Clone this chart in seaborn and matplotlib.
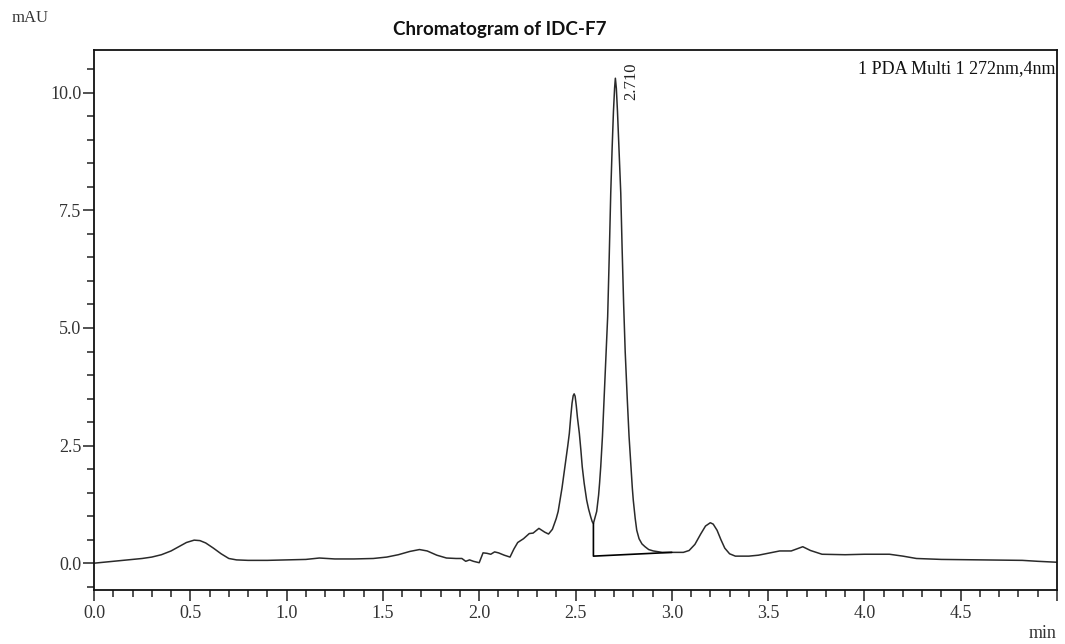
import matplotlib
matplotlib.use("Agg")
import matplotlib.pyplot as plt
from matplotlib.ticker import MultipleLocator, FormatStrFormatter
import seaborn as sns
import pandas as pd

# Retention time (min) and detector response (mAU), PDA channel 272 nm
time_min = [
    0.00, 0.05, 0.10, 0.15, 0.20, 0.25, 0.30, 0.35, 0.40, 0.44, 0.48, 0.52,
    0.55, 0.58, 0.62, 0.66, 0.70, 0.74, 0.80, 0.90, 1.00, 1.10, 1.17, 1.25,
    1.35, 1.45, 1.52, 1.58, 1.64, 1.69, 1.73, 1.78, 1.83, 1.88, 1.91, 1.93,
    1.95, 1.97, 2.00, 2.02, 2.04, 2.06, 2.08, 2.10, 2.13, 2.16, 2.18, 2.20,
    2.23, 2.26, 2.28, 2.31, 2.34, 2.36, 2.38, 2.40, 2.41, 2.42, 2.43, 2.44,
    2.45, 2.46, 2.468, 2.475, 2.482, 2.488, 2.493, 2.498, 2.504, 2.51, 2.52,
    2.528, 2.535, 2.545, 2.558, 2.568, 2.579, 2.587, 2.593, 2.60, 2.61,
    2.62, 2.625, 2.631, 2.64, 2.648, 2.657, 2.667, 2.675, 2.683, 2.69,
    2.697, 2.703, 2.707, 2.712, 2.718, 2.726, 2.735, 2.742, 2.75, 2.758,
    2.769, 2.778, 2.788, 2.795, 2.80, 2.81, 2.818, 2.83, 2.845, 2.861, 2.88,
    2.904, 2.95, 3.00, 3.06, 3.09, 3.12, 3.15, 3.175, 3.20, 3.215, 3.235,
    3.255, 3.275, 3.30, 3.33, 3.40, 3.45, 3.50, 3.56, 3.62, 3.68, 3.72, 3.78,
    3.90, 4.00, 4.13, 4.20, 4.27, 4.40, 4.60, 4.82, 4.90, 5.00,
]
mau = [
    0.00, 0.02, 0.04, 0.06, 0.08, 0.10, 0.13, 0.18, 0.26, 0.35, 0.44, 0.49,
    0.48, 0.43, 0.32, 0.20, 0.10, 0.07, 0.06, 0.06, 0.07, 0.08, 0.11, 0.09,
    0.09, 0.10, 0.13, 0.18, 0.25, 0.29, 0.26, 0.17, 0.11, 0.10, 0.10, 0.04,
    0.07, 0.04, 0.01, 0.22, 0.21, 0.19, 0.24, 0.22, 0.17, 0.13, 0.30, 0.44,
    0.52, 0.63, 0.64, 0.74, 0.66, 0.62, 0.72, 0.95, 1.10, 1.35, 1.60, 1.90,
    2.20, 2.50, 2.76, 3.10, 3.40, 3.56, 3.60, 3.55, 3.35, 3.10, 2.76,
    2.40, 2.05, 1.70, 1.34, 1.15, 0.985, 0.88, 0.845, 0.95, 1.10,
    1.45, 1.70, 2.05, 2.70, 3.47, 4.30, 5.24, 6.50, 7.87, 8.80,
    9.60, 10.10, 10.31, 10.10, 9.60, 8.80, 7.87, 6.70, 5.50, 4.50,
    3.47, 2.70, 2.05, 1.60, 1.34, 0.95, 0.70, 0.52, 0.41, 0.35, 0.29,
    0.26, 0.23, 0.23, 0.23, 0.27, 0.40, 0.62, 0.79, 0.86, 0.83, 0.70,
    0.50, 0.32, 0.20, 0.15, 0.15, 0.17, 0.21, 0.26, 0.26, 0.35, 0.27, 0.19,
    0.18, 0.19, 0.19, 0.15, 0.10, 0.08, 0.07, 0.06, 0.04, 0.02,
]

# Integration of the 2.710 peak: perpendicular drop, then sloped baseline
drop_time = [2.593, 2.593, 3.00]
drop_mau = [0.845, 0.15, 0.23]

peak_rt = 2.710
peak_label = "2.710"
channel_label = "1 PDA Multi 1 272nm,4nm"
title = "Chromatogram of IDC-F7"

df = pd.DataFrame({"time": time_min, "mAU": mau})

sns.set_theme(style="ticks")
plt.rcParams["font.family"] = ["Liberation Serif", "DejaVu Serif"]

fig = plt.figure(figsize=(10.65, 6.44), dpi=100)
ax = fig.add_axes([94 / 1065, 54 / 644, (1057 - 94) / 1065, (590 - 50) / 644])

sns.lineplot(data=df, x="time", y="mAU", ax=ax, estimator=None, sort=False,
             color="#2a2a2a", linewidth=1.1)
ax.plot(drop_time, drop_mau, color="black", linewidth=1.2)

ax.set_xlim(0.0, 5.0)
ax.set_ylim(-0.57, 10.91)
ax.set_xlabel("")
ax.set_ylabel("")

ax.xaxis.set_major_locator(MultipleLocator(0.5))
ax.xaxis.set_minor_locator(MultipleLocator(0.1))
ax.yaxis.set_major_locator(MultipleLocator(2.5))
ax.yaxis.set_minor_locator(MultipleLocator(0.5))
ax.xaxis.set_major_formatter(FormatStrFormatter("%.1f"))
ax.yaxis.set_major_formatter(FormatStrFormatter("%.1f"))

fig.canvas.draw()
xt = ax.get_xticks()
ax.set_xticks(xt)
ax.set_xticklabels(["" if abs(v - 5.0) < 1e-9 else f"{v:.1f}" for v in xt])
ax.set_xlim(0.0, 5.0)

ax.tick_params(axis="both", which="major", direction="out", length=8, width=1.1,
               color="#222222", labelsize=13, labelcolor="#333333")
ax.tick_params(axis="both", which="minor", direction="out", length=5, width=1.1,
               color="#222222")
ax.tick_params(axis="y", which="major", pad=1)
ax.tick_params(axis="x", which="major", pad=3)

for side in ["left", "right", "top", "bottom"]:
    ax.spines[side].set_visible(True)
    ax.spines[side].set_color("#111111")
    ax.spines[side].set_linewidth(1.3)

ax.text(0.998, 0.965, channel_label, transform=ax.transAxes, ha="right",
        va="center", fontsize=13, color="#111111")
ax.text(peak_rt + 0.037, 9.85, peak_label, rotation=90, ha="left", va="bottom",
        fontsize=12, color="#222222")

fig.text(500 / 1065, 1 - 30 / 644, title, ha="center", va="center",
         fontsize=13.5, fontweight="bold", family=["Lato", "DejaVu Sans"],
         color="#111111")
fig.text(12 / 1065, 1 - 18 / 644, "mAU", ha="left", va="center", fontsize=12,
         color="#333333")
fig.text(1057 / 1065, 1 - 634 / 644, "min", ha="right", va="center",
         fontsize=13, color="#333333")

fig.savefig("out.png", dpi=100, facecolor="white")
